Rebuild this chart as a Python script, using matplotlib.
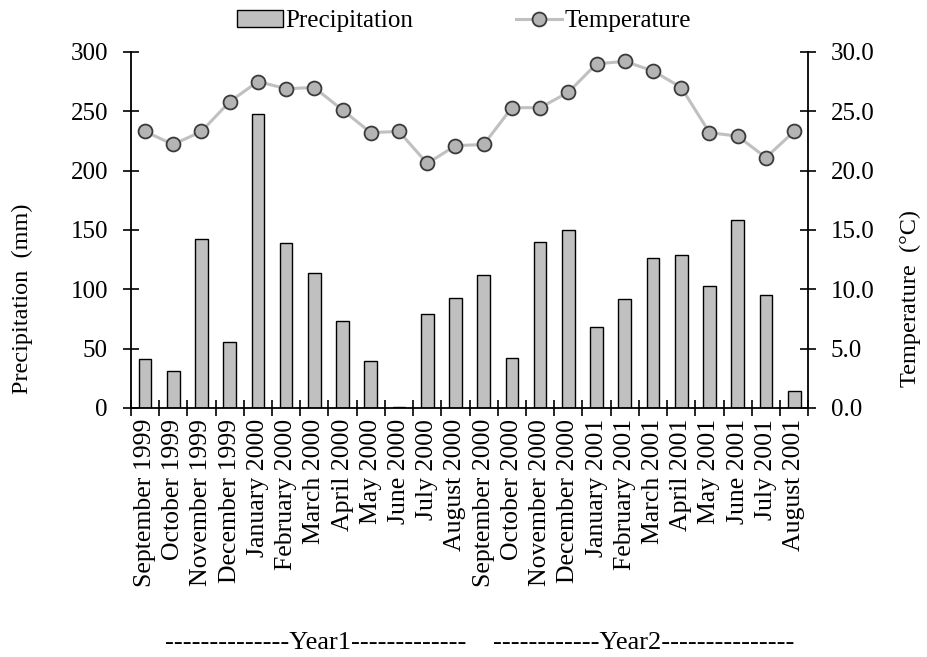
import numpy as np
import matplotlib
matplotlib.use('Agg')
import matplotlib.pyplot as plt

plt.rcParams['font.family'] = ['Liberation Serif', 'DejaVu Serif']

months = ['September 1999', 'October 1999', 'November 1999', 'December 1999',
          'January 2000', 'February 2000', 'March 2000', 'April 2000', 'May 2000',
          'June 2000', 'July 2000', 'August 2000', 'September 2000', 'October 2000',
          'November 2000', 'December 2000', 'January 2001', 'February 2001',
          'March 2001', 'April 2001', 'May 2001', 'June 2001', 'July 2001',
          'August 2001']
precipitation = [41, 31, 142, 56, 248, 139, 114, 73, 40, 1, 79, 93,
                 112, 42, 140, 150, 68, 92, 126, 129, 103, 158, 95, 14]
temperature = [23.3, 22.2, 23.3, 25.8, 27.5, 26.9, 27.0, 25.1, 23.2, 23.3, 20.6, 22.1,
               22.2, 25.3, 25.3, 26.6, 29.0, 29.2, 28.4, 27.0, 23.2, 22.9, 21.1, 23.3]
left_ticks = [0, 50, 100, 150, 200, 250, 300]
right_ticks = [0, 5, 10, 15, 20, 25, 30]

fig = plt.figure(figsize=(9.28, 6.57), dpi=100)
ax = fig.add_axes([0.141, 0.379, 0.730, 0.542])
x = np.arange(len(months))

bars = ax.bar(x, precipitation, width=0.45, color='#c0c0c0', edgecolor='black',
              linewidth=1.0, label='Precipitation', zorder=2)
ax.set_xlim(-0.5, len(months) - 0.5)
ax.set_ylim(0, 300)
ax.set_yticks(left_ticks)
ax.set_yticklabels([str(t) for t in left_ticks], fontsize=18)
ax.set_xticks(x)
ax.set_xticklabels(months, rotation=90, fontsize=18.5)
ax.tick_params(axis='x', length=0, pad=8)
ax.set_xticks(np.arange(-0.5, len(months), 1), minor=True)
ax.tick_params(axis='x', which='minor', direction='inout', length=12, width=1.2)
ax.tick_params(axis='y', direction='inout', length=12, width=1.2, pad=10.5)
ax.spines['top'].set_visible(False)
ax.spines['right'].set_visible(False)
for s in ['left', 'bottom']:
    ax.spines[s].set_linewidth(1.3)

ax2 = ax.twinx()
line, = ax2.plot(x, temperature, color='#c0c0c0', linewidth=2.2, marker='o',
                 markersize=10, markerfacecolor='#b4b4b4', markeredgecolor='#3a3a3a',
                 markeredgewidth=1.3, label='Temperature', zorder=3)
ax2.set_ylim(0, 30)
ax2.set_yticks(right_ticks)
ax2.set_yticklabels(['%.1f' % t for t in right_ticks], fontsize=18)
ax2.tick_params(axis='y', direction='inout', length=12, width=1.2, pad=10)
ax2.spines['top'].set_visible(False)
ax2.spines['left'].set_visible(False)
ax2.spines['bottom'].set_visible(False)
ax2.spines['right'].set_linewidth(1.3)

fig.text(0.024, 0.545, 'Precipitation  (mm)', fontsize=17.5, rotation=90,
         ha='center', va='center')
fig.text(0.981, 0.545, 'Temperature  (°C)', fontsize=17.5, rotation=90,
         ha='center', va='center')

fig.legend([bars, line], ['Precipitation', 'Temperature'], loc='center',
           bbox_to_anchor=(0.5, 0.968), ncol=2, frameon=False, fontsize=18,
           columnspacing=4.1, handlelength=1.85, handletextpad=0.1)

fig.text(0.34, 0.021, '--------------Year1-------------', fontsize=19,
         ha='center', va='center')
fig.text(0.694, 0.021, '------------Year2---------------', fontsize=19,
         ha='center', va='center')

fig.savefig('out.png', dpi=100)
